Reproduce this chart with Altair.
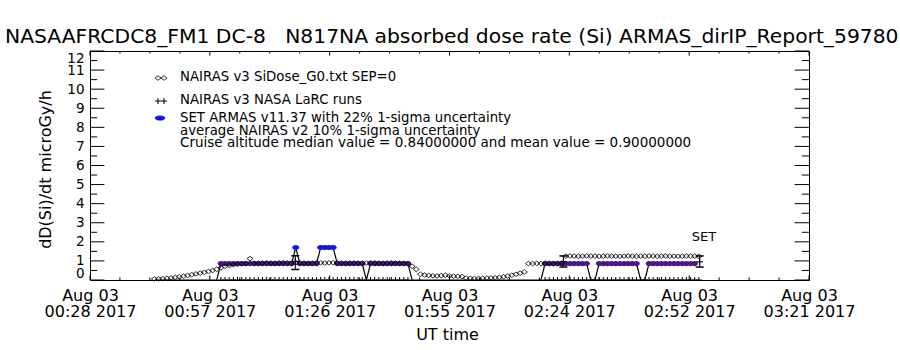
import altair as alt
import pandas as pd

# ---------------- text ----------------
title_text = "NASAAFRCDC8_FM1 DC-8\u00a0\u00a0\u00a0N817NA absorbed dose rate (Si) ARMAS_dirIP_Report_59780"
x_title = "UT time"
y_title = "dD(Si)/dt microGy/h"
legend_rows = ["NAIRAS v3 SiDose_G0.txt SEP=0",
               "NAIRAS v3 NASA LaRC runs",
               "SET ARMAS v11.37 with 22% 1-sigma uncertainty"]
note_rows = ["average NAIRAS v2 10% 1-sigma uncertainty",
             "Cruise altitude median value = 0.84000000 and mean value = 0.90000000"]
set_label = "SET"

# ---------------- axes (x in minutes after 00:00 UT) ----------------
x_tick_min = [28.5, 57.33, 86.17, 115.0, 143.83, 172.67, 201.5]
x_tick_date = ["Aug 03", "Aug 03", "Aug 03", "Aug 03", "Aug 03", "Aug 03", "Aug 03"]
x_tick_time = ["00:28 2017", "00:57 2017", "01:26 2017", "01:55 2017",
               "02:24 2017", "02:52 2017", "03:21 2017"]
y_tick_vals = [0, 1, 2, 3, 4, 5, 6, 7, 8, 9, 10, 11, 12]

# ---------------- data ----------------
# NAIRAS v3 SiDose_G0 (open diamonds), 1-minute cadence
nairas_t = [44, 45, 46, 47, 48, 49, 50, 51, 52, 53, 54, 55, 56, 57, 58, 59,
            60, 61, 62, 63, 64, 65, 66, 67, 68, 69, 70, 71, 72, 73, 74, 75,
            76, 77, 78, 79, 80, 81, 82, 83, 84, 85, 86, 87, 88, 89, 90, 91,
            92, 93, 94, 95, 96, 97, 98, 99, 100, 101, 102, 103, 104, 105, 106, 107,
            108, 109, 110, 111, 112, 113, 114, 115, 116, 117, 118, 119, 120, 121, 122, 123,
            124, 125, 126, 127, 128, 129, 130, 131, 132, 133, 134, 135, 136, 137, 138, 139,
            140, 141, 142, 143, 144, 145, 146, 147, 148, 149, 150, 151, 152, 153, 154, 155,
            156, 157, 158, 159, 160, 161, 162, 163, 164, 165, 166, 167, 168, 169, 170, 171,
            172, 173, 174, 175]
nairas_v = [0.05, 0.06, 0.07, 0.09, 0.11, 0.14, 0.17, 0.20, 0.24, 0.28, 0.32, 0.36, 0.40, 0.45, 0.50, 0.56,
            0.64, 0.72, 0.76, 0.80, 0.83, 0.85, 0.87, 1.12, 0.88, 0.88, 0.89, 0.90, 0.89, 0.88, 0.90, 0.91,
            0.90, 0.89, 0.90, 0.90, 0.89, 0.88, 0.89, 0.90, 0.90, 0.89, 0.90, 0.91, 0.90, 0.89, 0.88, 0.89,
            0.90, 0.89, 0.88, 0.89, 0.90, 0.90, 0.89, 0.88, 0.89, 0.90, 0.89, 0.88, 0.88, 0.86, 0.72, 0.56,
            0.30, 0.26, 0.24, 0.22, 0.21, 0.23, 0.25, 0.22, 0.20, 0.19, 0.18, 0.10, 0.09, 0.08, 0.08, 0.09,
            0.10, 0.11, 0.12, 0.14, 0.17, 0.21, 0.25, 0.30, 0.36, 0.42, 0.86, 0.86, 0.87, 0.86, 0.88, 0.87,
            0.86, 0.87, 0.88, 1.25, 1.26, 1.25, 1.24, 1.25, 1.26, 1.25, 1.25, 1.24, 1.25, 1.26, 1.25, 1.25,
            1.24, 1.25, 1.26, 1.25, 1.24, 1.25, 1.25, 1.26, 1.25, 1.24, 1.25, 1.26, 1.25, 1.25, 1.24, 1.25,
            1.26, 1.25, 1.25, 1.24]

# SET ARMAS dose rate
armas_t = [44, 45, 46, 47, 48, 49, 50, 51, 52, 53, 54, 55, 56, 57, 58, 59,
           60, 61, 62, 63, 64, 65, 66, 67, 68, 69, 70, 71, 72, 73, 74, 75,
           76, 77, 78, 79, 80, 81, 82, 83, 84, 85, 86, 87, 88, 89, 90, 91,
           92, 93, 94, 95, 96, 97, 98, 99, 100, 101, 102, 103, 104, 105, 106, 107,
           108, 109, 110, 111, 112, 113, 114, 115, 116, 117, 118, 119, 120, 121, 122, 123,
           124, 125, 126, 127, 128, 129, 130, 131, 132, 133, 134, 135, 136, 137, 138, 139,
           140, 141, 142, 143, 144, 145, 146, 147, 148, 149, 150, 151, 152, 153, 154, 155,
           156, 157, 158, 159, 160, 161, 162, 163, 164, 165, 166, 167, 168, 169, 170, 171,
           172, 173, 174]
armas_v = [0, 0, 0, 0, 0, 0, 0, 0, 0, 0, 0, 0, 0, 0, 0, 0,
           0.86, 0.86, 0.86, 0.86, 0.86, 0.86, 0.86, 0.86, 0.86, 0.86, 0.86, 0.86, 0.86, 0.86, 0.86, 0.86,
           0.86, 0.86, 1.70, 0.86, 0.86, 0.86, 0.86, 0.86, 1.70, 1.70, 1.70, 1.70, 0.86, 0.86, 0.86, 0.86,
           0.86, 0.86, 0.86, 0, 0.86, 0.86, 0.86, 0.86, 0.86, 0.86, 0.86, 0.86, 0.86, 0.86, 0, 0,
           0, 0, 0, 0, 0, 0, 0, 0, 0, 0, 0, 0, 0, 0, 0, 0,
           0, 0, 0, 0, 0, 0, 0, 0, 0, 0, 0, 0, 0, 0, 0.86, 0.86,
           0.86, 0.86, 0.86, 0.86, 0.86, 0.86, 0.86, 0.86, 0.86, 0, 0, 0.86, 0.86, 0.86, 0.86, 0.86,
           0.86, 0.86, 0.86, 0.86, 0.86, 0, 0, 0.86, 0.86, 0.86, 0.86, 0.86, 0.86, 0.86, 0.86, 0.86,
           0.86, 0.86, 0.86]

# NAIRAS v3 NASA LaRC runs with uncertainty
larc_t = [77.9, 142.4, 175.2]
larc_v = [0.98, 0.95, 0.95]
larc_lo = [0.55, 0.68, 0.68]
larc_hi = [1.27, 1.26, 1.26]
# LaRC runs at zero (plus symbols on the baseline)
larc_zero_t = [60, 61, 62, 63, 64, 65, 66, 67, 68, 69, 70, 71, 72, 73, 74, 75,
               76, 77, 78, 79, 80, 81, 82, 83, 84, 85, 86, 87, 88, 89, 90, 91,
               92, 93, 94, 95, 96, 97, 98, 99, 100, 101, 102, 103, 104, 105,
               138, 139, 140, 141, 142, 143, 144, 145, 146, 147, 148, 149, 150, 151, 152, 153,
               154, 155, 156, 157, 158, 159, 160, 161, 162, 163, 164, 165, 166, 167, 168, 169,
               170, 171, 172, 173, 174, 175]

# ---------------- layout ----------------
W, H = 719, 229
FONT = "DejaVu Sans"
PURPLE = "#4a1688"
BLUE = "#1414ee"

step = (x_tick_min[-1] - x_tick_min[0]) / (len(x_tick_min) - 1)
label_arr = "[" + ",".join("['%s','%s']" % (d, t) for d, t in zip(x_tick_date, x_tick_time)) + "]"
label_expr = "%s[round((datum.value - %s) / %s)]" % (label_arr, x_tick_min[0], step)

xscale = alt.Scale(domain=[x_tick_min[0], x_tick_min[-1]], nice=False, zero=False)
yscale = alt.Scale(domain=[0, 12], nice=False, zero=False)
xaxis = alt.Axis(values=x_tick_min, labelExpr=label_expr, ticks=False, domain=False, grid=False,
                 labelFont=FONT, labelFontSize=16, labelColor="black", labelPadding=7,
                 labelLineHeight=16, labelOverlap=False, labelFlush=False,
                 title=x_title, titleFont=FONT, titleFontSize=16, titleFontWeight="normal",
                 titleColor="black", titleX=357, titleY=54, titleBaseline="middle", titleAlign="center")
yaxis = alt.Axis(values=y_tick_vals, ticks=False, domain=False, grid=False,
                 labelFont=FONT, labelFontSize=13.5, labelColor="black", labelPadding=6,
                 labelFlush=True, labelOverlap=False,
                 title=y_title, titleFont=FONT, titleFontSize=16, titleFontWeight="normal",
                 titleColor="black", titleX=-45, titleY=118, titleBaseline="middle",
                 titleAlign="center", titleAngle=-90)


def X(field="t"):
    return alt.X(field + ":Q", scale=xscale, axis=xaxis)


def Y(field="v"):
    return alt.Y(field + ":Q", scale=yscale, axis=yaxis)


nairas_df = pd.DataFrame({"t": nairas_t, "v": nairas_v})
armas_df = pd.DataFrame({"t": armas_t, "v": armas_v})
larc_df = pd.DataFrame({"t": larc_t, "v": larc_v, "lo": larc_lo, "hi": larc_hi})
larc0_df = pd.DataFrame({"t": larc_zero_t, "v": [0] * len(larc_zero_t)})

# tick positions (box ticks inward, IDL style)
y_major = pd.DataFrame({"v": y_tick_vals})
y_minor = pd.DataFrame({"v": [a + 0.5 for a in y_tick_vals[:-1]]})
x_major = pd.DataFrame({"t": x_tick_min})
x_minor = pd.DataFrame({"t": [x_tick_min[i] + step * k / 4.0
                              for i in range(len(x_tick_min) - 1) for k in (1, 2, 3)]})

layers = []
base_rule = dict(color="black", strokeWidth=1)
layers.append(alt.Chart(y_major).mark_rule(**base_rule).encode(y=Y(), x=alt.value(0), x2=alt.value(14.4)))
layers.append(alt.Chart(y_major).mark_rule(**base_rule).encode(y=Y(), x=alt.value(W - 14.4), x2=alt.value(W)))
layers.append(alt.Chart(y_minor).mark_rule(**base_rule).encode(y=Y(), x=alt.value(0), x2=alt.value(7.2)))
layers.append(alt.Chart(y_minor).mark_rule(**base_rule).encode(y=Y(), x=alt.value(W - 7.2), x2=alt.value(W)))
layers.append(alt.Chart(x_major).mark_rule(**base_rule).encode(x=X(), y=alt.value(H), y2=alt.value(H - 4.6)))
layers.append(alt.Chart(x_major).mark_rule(**base_rule).encode(x=X(), y=alt.value(0), y2=alt.value(4.6)))
layers.append(alt.Chart(x_minor).mark_rule(**base_rule).encode(x=X(), y=alt.value(H), y2=alt.value(H - 2.5)))
layers.append(alt.Chart(x_minor).mark_rule(**base_rule).encode(x=X(), y=alt.value(0), y2=alt.value(2.5)))

# ARMAS connecting line
layers.append(alt.Chart(armas_df).mark_line(color="black", strokeWidth=1.2, interpolate="linear").encode(x=X(), y=Y()))
# ARMAS points
layers.append(alt.Chart(armas_df).transform_filter("datum.v > 0 && datum.v < 1.2").mark_point(
    shape="M-1,0A1,0.8,0,1,0,1,0A1,0.8,0,1,0,-1,0Z", filled=True, size=42, color=PURPLE, opacity=1
).encode(x=X(), y=Y()))
layers.append(alt.Chart(armas_df).transform_filter("datum.v >= 1.2").mark_point(
    shape="M-1,0A1,0.7,0,1,0,1,0A1,0.7,0,1,0,-1,0Z", filled=True, size=49, color=BLUE, opacity=1
).encode(x=X(), y=Y()))

# LaRC zero runs (plus on baseline)
layers.append(alt.Chart(larc0_df).mark_point(
    shape="M-1,0L1,0M0,-1L0,1", filled=False, size=36, color="black", strokeWidth=1, opacity=1, clip=True
).encode(x=X(), y=Y()))

# NAIRAS diamonds
layers.append(alt.Chart(nairas_df).mark_point(
    shape="M-1,0L0,-0.75L1,0L0,0.75Z", filled=False, size=36, color="black", strokeWidth=0.8, opacity=1
).encode(x=X(), y=Y()))

# LaRC runs with error bars
layers.append(alt.Chart(larc_df).mark_rule(color="black", strokeWidth=1).encode(x=X(), y=Y("lo"), y2="hi:Q"))
layers.append(alt.Chart(larc_df).mark_point(shape="M-1,0L1,0", filled=False, size=64, color="black",
                                            strokeWidth=1.5, opacity=1).encode(x=X(), y=Y("hi")))
layers.append(alt.Chart(larc_df).mark_point(shape="M-1,0L1,0", filled=False, size=64, color="black",
                                            strokeWidth=1.5, opacity=1).encode(x=X(), y=Y("lo")))
layers.append(alt.Chart(larc_df).mark_point(shape="M-1,0L1,0M0,-1L0,1", filled=False, size=49, color="black",
                                            strokeWidth=1, opacity=1).encode(x=X(), y=Y()))

# ---------- annotations (pixel positions relative to the plot area) ----------
one = pd.DataFrame({"a": [0]})


def txt(s, x, y, size, align="left"):
    return alt.Chart(one).mark_text(text=s, font=FONT, fontSize=size, color="black", align=align,
                                    baseline="middle").encode(x=alt.value(x), y=alt.value(y))


layers.append(txt(title_text, -85, -14, 20.3))
layers.append(txt(legend_rows[0], 90, 26, 13.3))
layers.append(txt(legend_rows[1], 90, 49, 13.3))
layers.append(txt(legend_rows[2], 90, 67, 13.3))
layers.append(txt(note_rows[0], 90, 80, 13.3))
layers.append(txt(note_rows[1], 90, 92, 13.5))
layers.append(txt(set_label, 614, 186, 13, align="center"))

# legend symbols
for sx in (68, 74):
    layers.append(alt.Chart(one).mark_point(shape="M-1,0L0,-0.75L1,0L0,0.75Z", filled=False, size=36,
                                            color="black", strokeWidth=0.8, opacity=1)
                  .encode(x=alt.value(sx), y=alt.value(27)))
    layers.append(alt.Chart(one).mark_point(shape="M-1,0L1,0M0,-1L0,1", filled=False, size=36,
                                            color="black", strokeWidth=1, opacity=1)
                  .encode(x=alt.value(sx), y=alt.value(50)))
layers.append(alt.Chart(one).mark_point(shape="M-1,0A1,0.5,0,1,0,1,0A1,0.5,0,1,0,-1,0Z", filled=True,
                                        size=110, color=BLUE, opacity=1)
              .encode(x=alt.value(70), y=alt.value(67)))

chart = alt.layer(*layers).properties(
    width=W, height=H,
    autosize=alt.AutoSizeParams(type="none"),
    padding={"left": 90, "top": 51, "right": 91, "bottom": 70},
    background="white",
).configure_view(stroke="black", strokeWidth=1)

chart.save("out.html", embed_options={"renderer": "svg", "actions": False})
